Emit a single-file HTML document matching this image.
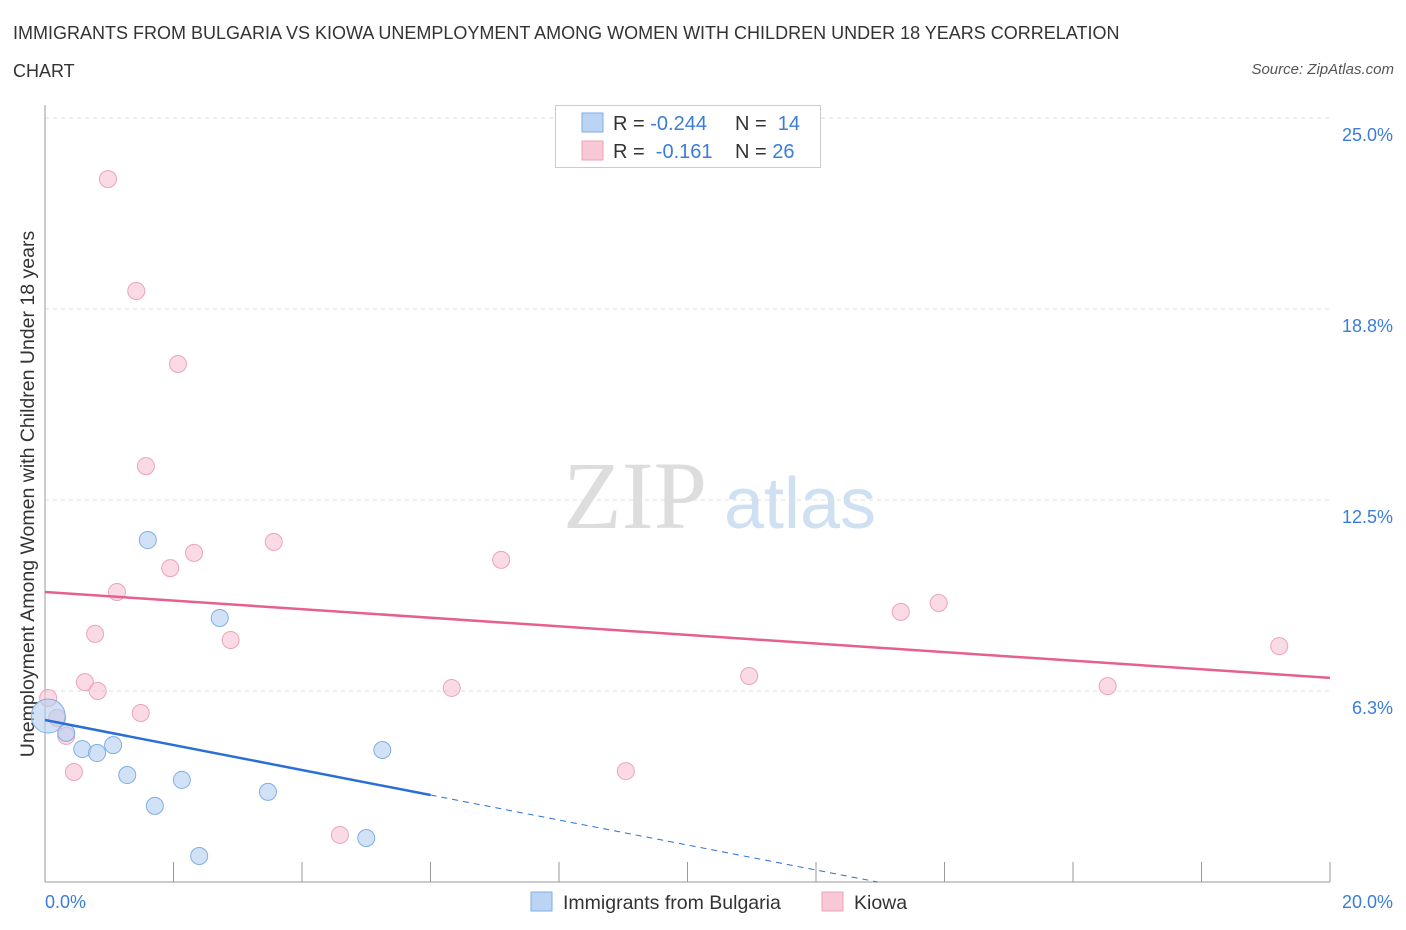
<!DOCTYPE html>
<html><head><meta charset="utf-8"><style>
body{margin:0;background:#fff;font-family:"Liberation Sans",sans-serif;}
#wrap{position:relative;width:1406px;height:930px;overflow:hidden;}
.t{position:absolute;white-space:nowrap;}
</style></head><body>
<div id="wrap">
<div class="t" style="left:13px;top:14px;font-size:18px;color:#333;line-height:38px;">IMMIGRANTS FROM BULGARIA VS KIOWA UNEMPLOYMENT AMONG WOMEN WITH CHILDREN UNDER 18 YEARS CORRELATION<br>CHART</div>
<div class="t" style="right:12px;top:61px;font-size:15px;color:#555;font-style:italic;">Source: ZipAtlas.com</div>
<svg id="svg" width="1406" height="930" style="position:absolute;left:0;top:0"></svg>
</div>
<script>
const blueX=[0.05,0.33,0.58,0.81,1.06,1.28,1.60,1.71,2.13,2.40,2.72,3.47,5.00,5.25];
const blueY=[5.43,4.88,4.35,4.22,4.48,3.50,11.19,2.49,3.34,0.85,8.64,2.95,1.44,4.32];
const pinkX=[0.98,1.42,2.07,1.57,3.56,2.32,1.95,1.12,0.78,2.89,0.62,0.82,1.49,0.19,0.33,0.45,0.05,4.59,6.33,7.10,9.04,10.96,13.32,13.91,16.54,19.21];
const pinkY=[23.0,19.34,16.95,13.61,11.13,10.77,10.27,9.49,8.12,7.92,6.54,6.25,5.53,5.37,4.78,3.60,6.02,1.54,6.35,10.54,3.63,6.74,8.84,9.13,6.41,7.72];
const yTicks=[6.25,12.5,18.75,25];
const yTickLabels=["6.3%","12.5%","18.8%","25.0%"];
const xTicks=[0,2,4,6,8,10,12,14,16,18,20];
const blueLine=[5.30,-0.409,6.0];
const pinkLine=[9.49,-0.1405,20];
const NS="http://www.w3.org/2000/svg";
const svg=document.getElementById('svg');
const X=v=>45+v/20*1285, Y=v=>882-v/25*764;
function mk(t,a){const e=document.createElementNS(NS,t);for(const k in a)e.setAttribute(k,a[k]);svg.appendChild(e);return e;}
let w=mk('text',{x:635,y:528,'font-size':96,'font-family':'Liberation Serif,serif',fill:'#ddd','text-anchor':'middle'});w.textContent='ZIP';

w=mk('text',{x:800,y:528,'font-size':72,'font-family':'Liberation Sans,sans-serif',fill:'#cfe0f3','text-anchor':'middle'});w.textContent='atlas';

yTicks.forEach((v,i)=>{
 let g=mk('line',{x1:45,x2:1330,y1:Y(v),y2:Y(v),stroke:'#ddd','stroke-dasharray':'4,4'});
 
 let t=mk('text',{x:1393,y:Y(v)+23,'font-size':18,fill:'#3b7dd8','text-anchor':'end'});t.textContent=yTickLabels[i];
 
});
let a=mk('line',{x1:45,x2:45,y1:105,y2:882,stroke:'#999'});
a=mk('line',{x1:45,x2:1330,y1:882,y2:882,stroke:'#999'});
xTicks.forEach(v=>{let t=mk('line',{x1:X(v),x2:X(v),y1:862,y2:882,stroke:'#999'});});
let xl=mk('text',{x:45,y:908,'font-size':18,fill:'#3b7dd8'});xl.textContent='0.0%';
xl=mk('text',{x:1393,y:908,'font-size':18,fill:'#3b7dd8','text-anchor':'end'});xl.textContent='20.0%';
let yt=mk('text',{x:34,y:494,'font-size':19.5,fill:'#333','text-anchor':'middle',transform:'rotate(-90 34 494)'});yt.textContent='Unemployment Among Women with Children Under 18 years';

pinkX.forEach((x,i)=>{let c=mk('circle',{cx:X(x),cy:Y(pinkY[i]),r:8.5,fill:'#f6c3d3','fill-opacity':0.6,stroke:'#eda3b9','stroke-width':1});
 });
blueX.forEach((x,i)=>{let c=mk('circle',{cx:X(x),cy:Y(blueY[i]),r:i==0?17:8.5,fill:'#b4cff0','fill-opacity':0.6,stroke:'#7faee4','stroke-width':1});
 });
let l=mk('line',{x1:X(0),y1:Y(pinkLine[0]),x2:X(pinkLine[2]),y2:Y(pinkLine[0]+pinkLine[1]*pinkLine[2]),stroke:'#e5608c','stroke-width':2.5});

l=mk('line',{x1:X(0),y1:Y(blueLine[0]),x2:X(blueLine[2]),y2:Y(blueLine[0]+blueLine[1]*blueLine[2]),stroke:'#2a6fd6','stroke-width':2.5});

const xe=-blueLine[0]/blueLine[1];
l=mk('line',{x1:X(blueLine[2]),y1:Y(blueLine[0]+blueLine[1]*blueLine[2]),x2:X(xe),y2:Y(0),stroke:'#2a6fd6','stroke-width':1,'stroke-dasharray':'6,5'});

let r=mk('rect',{x:555.5,y:105.5,width:265,height:62,fill:'#fff',stroke:'#ccc'});
function row(y,fill,stroke,rv,nv,name){
 let s=mk('rect',{x:582,y:y-10,width:21,height:19,fill:fill,stroke:stroke});
 let t=mk('text',{x:613,y:y+7,'font-size':20,fill:'#333'});t.innerHTML='R = <tspan fill="#3b7dd8">'+rv+'</tspan>';
 
 t=mk('text',{x:735,y:y+7,'font-size':20,fill:'#333'});t.innerHTML='N = <tspan fill="#3b7dd8">'+nv+'</tspan>';
 
}
row(123,'#bcd4f4','#7faee4','-0.244','\u00a014','bulgaria');
row(151,'#f8c8d7','#eda3b9','\u00a0-0.161','26','kiowa');
let s=mk('rect',{x:531,y:892,width:21,height:19,fill:'#bcd4f4',stroke:'#7faee4'});
let t=mk('text',{x:563,y:909,'font-size':19.5,fill:'#333'});t.textContent='Immigrants from Bulgaria';
s=mk('rect',{x:822,y:892,width:21,height:19,fill:'#f8c8d7',stroke:'#eda3b9'});
t=mk('text',{x:854,y:909,'font-size':19.5,fill:'#333'});t.textContent='Kiowa';
</script>
</body></html>
